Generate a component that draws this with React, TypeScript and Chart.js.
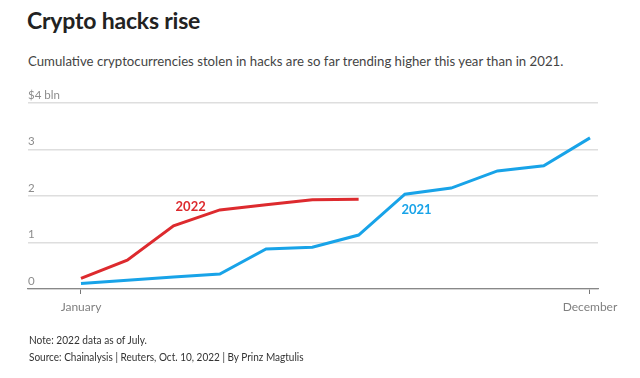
import React, { useEffect, useRef } from "react";
import { Chart, registerables } from "chart.js";

Chart.register(...registerables);

const monthIndex = [0, 1, 2, 3, 4, 5, 6, 7, 8, 9, 10, 11];
const values2021 = [0.12, 0.19, 0.26, 0.32, 0.86, 0.9, 1.16, 2.04, 2.17, 2.54, 2.65, 3.25];
const values2022 = [0.23, 0.62, 1.36, 1.7, 1.81, 1.92, 1.93];
const xTickLabels: Record<number, string> = { 0: "January", 11: "December" };
const yTicks = [0, 1, 2, 3, 4];

const RED = "#dd2a2e";
const BLUE = "#18a3e8";
const FONT = "'Source Sans Pro', Lato, 'Open Sans', sans-serif";

const seriesLabels = [
  { text: "2022", x: 2.37, y: 1.77, color: RED },
  { text: "2021", x: 7.25, y: 1.7, color: BLUE },
];

const labelPlugin = {
  id: "seriesLabels",
  afterDatasetsDraw(chart: any) {
    const { ctx, scales } = chart;
    ctx.save();
    ctx.font = `bold 13px ${FONT}`;
    ctx.textAlign = "center";
    ctx.textBaseline = "middle";
    for (const l of seriesLabels) {
      ctx.fillStyle = l.color;
      ctx.fillText(l.text, scales.x.getPixelForValue(l.x), scales.y.getPixelForValue(l.y));
    }
    ctx.restore();
  },
};

export default function App() {
  const ref = useRef<HTMLCanvasElement>(null);
  useEffect(() => {
    if (!ref.current) return;
    const chart = new Chart(ref.current, {
      type: "line",
      data: {
        datasets: [
          {
            label: "2021",
            data: values2021.map((v, i) => ({ x: monthIndex[i], y: v })),
            borderColor: BLUE,
            borderWidth: 3,
            pointRadius: 0,
            tension: 0,
          },
          {
            label: "2022",
            data: values2022.map((v, i) => ({ x: monthIndex[i], y: v })),
            borderColor: RED,
            borderWidth: 3,
            pointRadius: 0,
            tension: 0,
          },
        ],
      },
      options: {
        animation: false,
        responsive: false,
        maintainAspectRatio: false,
        layout: { padding: { left: 28, right: 42, top: 103, bottom: 59 } },
        plugins: { legend: { display: false }, tooltip: { enabled: false } },
        scales: {
          x: {
            type: "linear",
            min: -1.145,
            max: 11.173,
            afterBuildTicks: (s: any) => {
              s.ticks = [{ value: 0 }, { value: 11 }];
            },
            afterFit: (s: any) => {
              s.height = 30;
            },
            ticks: {
              autoSkip: false,
              maxRotation: 0,
              padding: 6,
              color: "#808080",
              font: { family: FONT, size: 12 },
              callback: (v: any) => xTickLabels[v] ?? "",
            },
            grid: { drawOnChartArea: false, drawTicks: true, tickLength: 5, color: "#777", lineWidth: 1 },
            border: { display: true, color: "#888", width: 1.2 },
          },
          y: {
            min: 0,
            max: 4,
            afterBuildTicks: (s: any) => {
              s.ticks = yTicks.map((v) => ({ value: v }));
            },
            ticks: {
              mirror: true,
              padding: 0,
              labelOffset: -8,
              color: "#8c8c8c",
              font: { family: FONT, size: 11.5 },
              callback: (v: any) => (v === 4 ? "$4 bln" : String(v)),
            },
            grid: { color: "#dedede", lineWidth: 1.5, drawTicks: false },
            border: { display: false },
          },
        },
      },
      plugins: [labelPlugin],
    });
    return () => chart.destroy();
  }, []);

  const scaled = (s: number): React.CSSProperties => ({ transform: `scaleX(${s})`, transformOrigin: "left center" });

  return (
    <div style={{ position: "fixed", left: 0, top: 0, width: 640, height: 378, background: "#fff", fontFamily: FONT }}>
      <div style={{ position: "absolute", left: 27, top: 6, fontSize: 23, fontWeight: 700, color: "#222", letterSpacing: -0.2, whiteSpace: "nowrap" }}>
        Crypto hacks rise
      </div>
      <div style={{ position: "absolute", left: 28, top: 52, fontSize: 14.2, color: "#444", whiteSpace: "nowrap", ...scaled(0.93) }}>
        Cumulative cryptocurrencies stolen in hacks are so far trending higher this year than in 2021.
      </div>
      <canvas ref={ref} width={640} height={378} style={{ position: "absolute", left: 0, top: 0 }} />
      <div style={{ position: "absolute", left: 29, top: 333, fontSize: 11, color: "#333", whiteSpace: "nowrap", ...scaled(0.92) }}>
        Note: 2022 data as of July.
      </div>
      <div style={{ position: "absolute", left: 29, top: 350, fontSize: 11, color: "#333", whiteSpace: "nowrap", ...scaled(0.91) }}>
        Source: Chainalysis | Reuters, Oct. 10, 2022 | By Prinz Magtulis
      </div>
    </div>
  );
}
